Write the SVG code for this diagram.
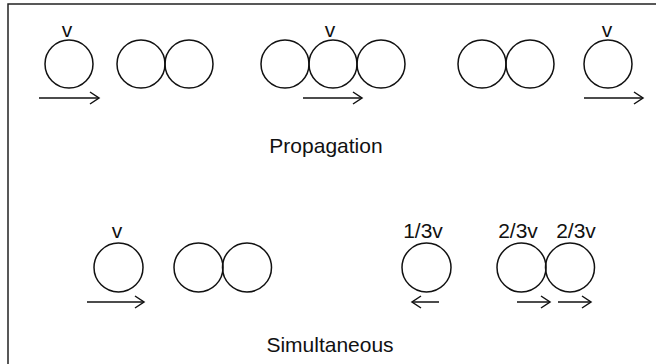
<svg xmlns="http://www.w3.org/2000/svg" width="656" height="364" viewBox="0 0 656 364">
<style>
.frame{fill:none;stroke:#222;stroke-width:1.5}
.ball{fill:none;stroke:#111;stroke-width:1.5}
.arr{fill:none;stroke:#111;stroke-width:1.5}
.lbl{font-family:"Liberation Sans",Arial,sans-serif;font-size:21px;fill:#111;text-anchor:middle}
</style>
<defs>
<marker id="head" markerWidth="12" markerHeight="14" refX="10" refY="7" orient="auto" markerUnits="userSpaceOnUse">
<path d="M1,1 L10,7 L1,13" fill="none" stroke="#111" stroke-width="1.5"/>
</marker>
</defs>
<rect width="656" height="364" fill="#fff"/>
<rect class="frame" x="8" y="4" width="700" height="420"/>

<g id="prop-ball1"><circle class="ball" cx="69" cy="64" r="24"/><text class="lbl" x="67" y="37">v</text></g>
<g id="prop-pair1"><circle class="ball" cx="141" cy="64" r="24"/><circle class="ball" cx="189" cy="64" r="24"/></g>
<g id="prop-triple"><circle class="ball" cx="285" cy="64" r="24"/><circle class="ball" cx="333" cy="64" r="24"/><circle class="ball" cx="381" cy="64" r="24"/><text class="lbl" x="330" y="37">v</text></g>
<g id="prop-pair2"><circle class="ball" cx="482" cy="64" r="24"/><circle class="ball" cx="530" cy="64" r="24"/></g>
<g id="prop-ball2"><circle class="ball" cx="608" cy="64" r="24"/><text class="lbl" x="607" y="37">v</text></g>
<g id="prop-title"><text class="lbl" x="326" y="153">Propagation</text></g>

<g id="sim-ball1"><circle class="ball" cx="118.5" cy="267.5" r="24.5"/><text class="lbl" x="117" y="238">v</text></g>
<g id="sim-pair"><circle class="ball" cx="198.5" cy="267.5" r="24.5"/><circle class="ball" cx="247" cy="267.5" r="24.5"/></g>
<g id="sim-ball2"><circle class="ball" cx="426.5" cy="267.5" r="24.5"/><text class="lbl" x="423" y="238">1/3v</text></g>
<g id="sim-pair2"><circle class="ball" cx="521.5" cy="267.5" r="24.5"/><circle class="ball" cx="570" cy="267.5" r="24.5"/><text class="lbl" x="518" y="238">2/3v</text><text class="lbl" x="576" y="238">2/3v</text></g>
<g id="sim-title"><text class="lbl" x="330" y="352">Simultaneous</text></g>

<g id="connectors">
<line class="arr" x1="39" y1="98" x2="99" y2="98" marker-end="url(#head)"/>
<line class="arr" x1="303" y1="98" x2="362" y2="98" marker-end="url(#head)"/>
<line class="arr" x1="584" y1="98" x2="643" y2="98" marker-end="url(#head)"/>
<line class="arr" x1="87" y1="302" x2="144" y2="302" marker-end="url(#head)"/>
<line class="arr" x1="439" y1="302" x2="412" y2="302" marker-end="url(#head)"/>
<line class="arr" x1="517" y1="302" x2="550" y2="302" marker-end="url(#head)"/>
<line class="arr" x1="558" y1="302" x2="591" y2="302" marker-end="url(#head)"/>
</g>
</svg>
